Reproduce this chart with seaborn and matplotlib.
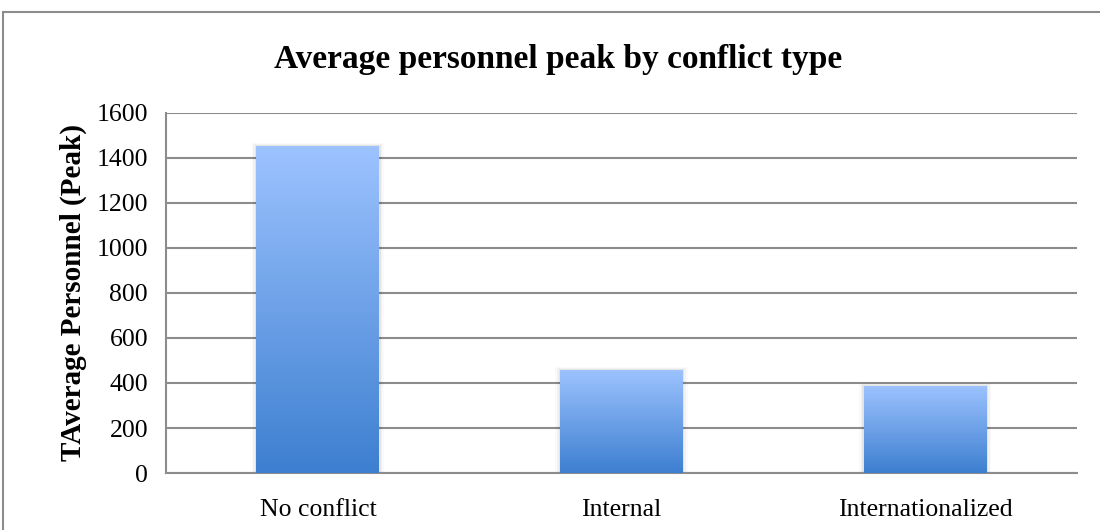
"""
Bar chart: average personnel peak by conflict type (Excel-style gradient bars)
"""

import matplotlib.pyplot as plt
import numpy as np
import pandas as pd
import seaborn as sns
from matplotlib.colors import LinearSegmentedColormap
from matplotlib.patches import Rectangle

categories = ["No conflict", "Internal", "Internationalized"]
peak_personnel = [1453, 458, 387]
y_ticks = [0, 200, 400, 600, 800, 1000, 1200, 1400, 1600]

df = pd.DataFrame({"conflict": categories, "personnel": peak_personnel})

sns.set_theme(style="white")
plt.rcParams["font.family"] = ["Liberation Serif", "DejaVu Serif"]
plt.rcParams["text.color"] = "black"
plt.rcParams["axes.labelcolor"] = "black"

fig = plt.figure(figsize=(11, 5.3), dpi=100)
ax = fig.add_axes([0.151, 0.1075, 0.828, 0.6795])

# outer chart border
fig.patches.append(
    Rectangle((3 / 1100, -0.05), 1.2, 1 - 12 / 530 + 0.05, transform=fig.transFigure,
              fill=False, edgecolor="#8c8c8c", linewidth=1.5, zorder=0)
)

sns.barplot(data=df, x="conflict", y="personnel", color="#9dc3ff", width=0.405,
            linewidth=0, ax=ax, zorder=3)

grad = LinearSegmentedColormap.from_list("bar", ["#3d7fd0", "#9dc3ff"])
gradient = np.linspace(0, 1, 256).reshape(-1, 1)
for patch in list(ax.patches):
    x0, y0 = patch.get_x(), patch.get_y()
    w, h = patch.get_width(), patch.get_height()
    # soft shadow
    for i, a in enumerate([0.05, 0.035, 0.02]):
        d = 0.005 * (i + 1)
        ax.add_patch(Rectangle((x0 - d, y0), w + 2 * d, h + 5 * (i + 1),
                               facecolor="black", alpha=a, edgecolor="none", zorder=2))
    im = ax.imshow(gradient, extent=(x0, x0 + w, y0, y0 + h), origin="lower",
                   aspect="auto", cmap=grad, zorder=4)
    im.set_clip_path(patch)

ax.set_xlim(-0.5, 2.5)
ax.set_ylim(0, 1600)
ax.set_yticks(y_ticks)
ax.set_yticklabels([str(t) for t in y_ticks])
ax.yaxis.grid(True, color="#8c8c8c", linewidth=1.5, zorder=0)
ax.set_axisbelow(True)

for side in ["top", "right"]:
    ax.spines[side].set_visible(False)
for side in ["left", "bottom"]:
    ax.spines[side].set_color("#8c8c8c")
    ax.spines[side].set_linewidth(1.5)

ax.tick_params(axis="both", labelsize=18.5, length=0, colors="black")
ax.tick_params(axis="x", pad=19)
ax.tick_params(axis="y", pad=13)
ax.set_xlabel("")
ax.set_ylabel("TAverage Personnel (Peak)", fontsize=21, fontweight="bold",
              labelpad=7, color="black")

fig.text(0.507, 0.887, "Average personnel peak by conflict type", ha="center",
         va="center", fontsize=24, fontweight="bold", color="black")

fig.savefig("out.png", dpi=100)
